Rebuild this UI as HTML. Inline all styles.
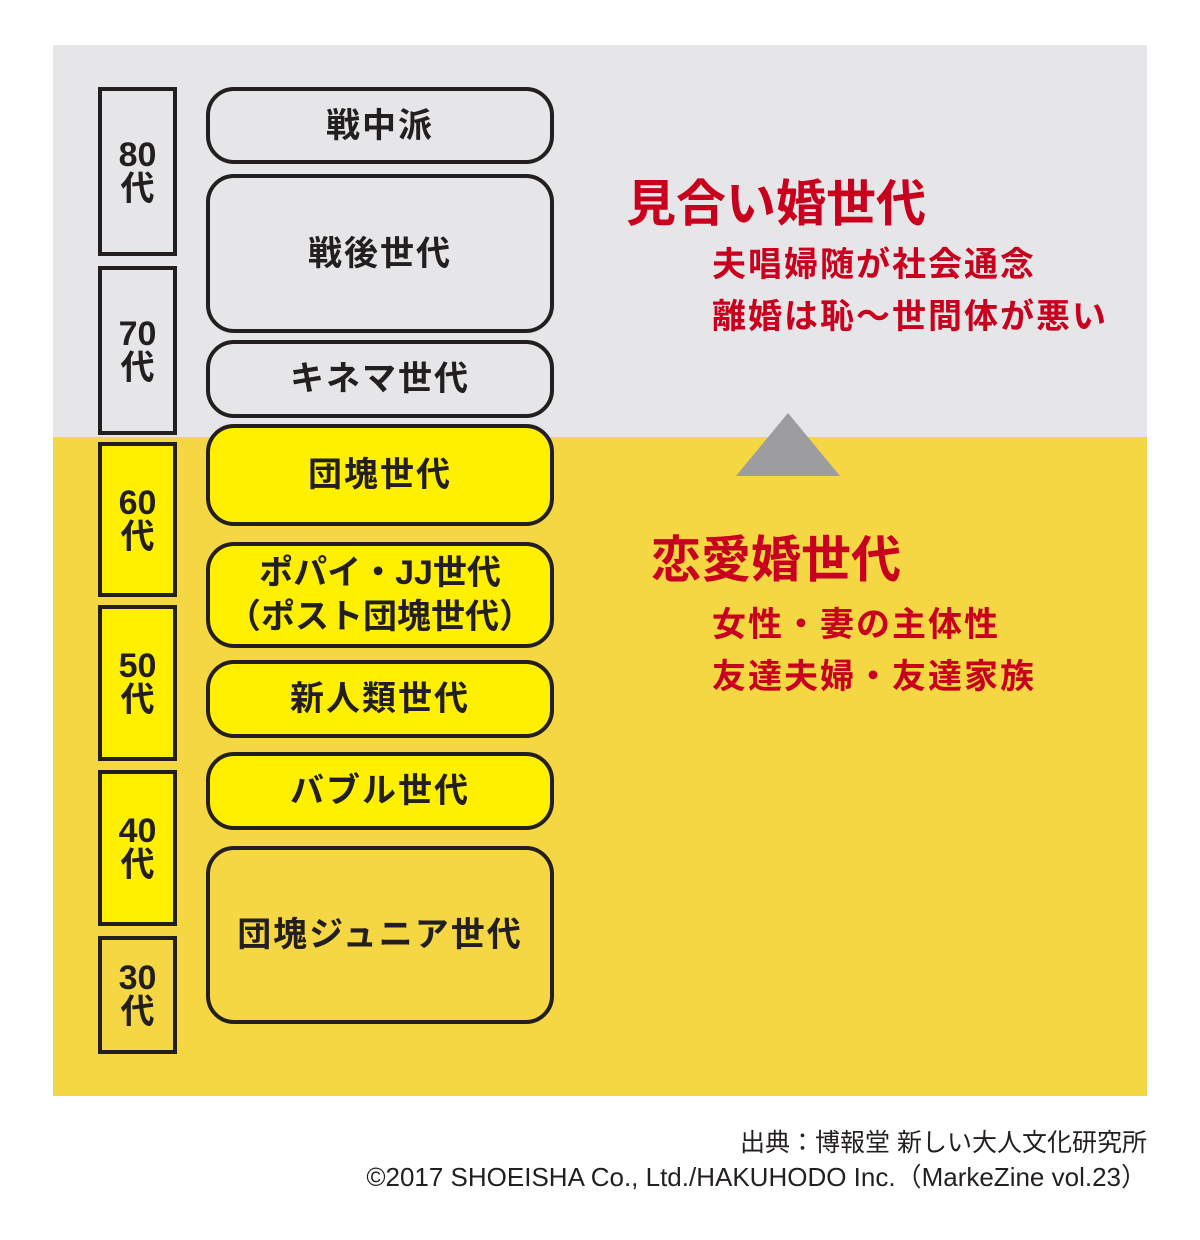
<!DOCTYPE html>
<html><head><meta charset="utf-8"><style>
body{margin:0;width:1200px;height:1240px;background:#fff;position:relative;overflow:hidden;font-family:"Liberation Sans","Noto Sans CJK JP",sans-serif;}
.a{position:absolute;box-sizing:border-box;}
.age{border:4px solid #231f20;display:flex;flex-direction:column;align-items:center;justify-content:center;font-weight:bold;font-size:34px;line-height:34px;color:#231f20;}
.g{border:4px solid #231f20;border-radius:28px;display:flex;flex-direction:column;align-items:center;justify-content:center;font-weight:bold;font-size:34px;letter-spacing:2px;line-height:44px;color:#231f20;text-align:center;white-space:nowrap;}
.y{background:#fff000;}
.r{color:#c8001e;font-weight:bold;white-space:nowrap;}
</style></head><body>
<div class="a" style="left:53px;top:45px;width:1094px;height:392px;background:#e6e6e8"></div>
<div class="a" style="left:53px;top:437px;width:1094px;height:659px;background:#f4d742"></div>

<div class="a age" style="left:98px;top:87px;width:79px;height:169px"><div>80</div><div>代</div></div>
<div class="a age" style="left:98px;top:266px;width:79px;height:169px"><div>70</div><div>代</div></div>
<div class="a age y" style="left:98px;top:442px;width:79px;height:155px"><div>60</div><div>代</div></div>
<div class="a age y" style="left:98px;top:605px;width:79px;height:156px"><div>50</div><div>代</div></div>
<div class="a age y" style="left:98px;top:770px;width:79px;height:156px"><div>40</div><div>代</div></div>
<div class="a age" style="left:98px;top:936px;width:79px;height:118px"><div>30</div><div>代</div></div>

<div class="a g" style="left:206px;top:87px;width:348px;height:77px">戦中派</div>
<div class="a g" style="left:206px;top:174px;width:348px;height:159px">戦後世代</div>
<div class="a g" style="left:206px;top:340px;width:348px;height:78px">キネマ世代</div>
<div class="a g y" style="left:206px;top:424px;width:348px;height:102px">団塊世代</div>
<div class="a g y" style="left:206px;top:542px;width:348px;height:106px;line-height:44px;letter-spacing:0"><div>ポパイ・JJ世代</div><div>（ポスト団塊世代）</div></div>
<div class="a g y" style="left:206px;top:660px;width:348px;height:78px">新人類世代</div>
<div class="a g y" style="left:206px;top:752px;width:348px;height:78px">バブル世代</div>
<div class="a g" style="left:206px;top:846px;width:348px;height:178px">団塊ジュニア世代</div>

<div class="a r" style="left:626px;top:174px;font-size:50px;line-height:60px">見合い婚世代</div>
<div class="a r" style="left:712px;top:245px;font-size:34px;line-height:40px;letter-spacing:2px">夫唱婦随が社会通念</div>
<div class="a r" style="left:712px;top:297px;font-size:34px;line-height:40px;letter-spacing:2px">離婚は恥～世間体が悪い</div>

<svg class="a" style="left:0;top:0" width="1200" height="1240"><polygon points="788,413 840,476 736,476" fill="#9d9d9f"/></svg>

<div class="a r" style="left:651px;top:530px;font-size:50px;line-height:60px">恋愛婚世代</div>
<div class="a r" style="left:712px;top:605px;font-size:34px;line-height:40px;letter-spacing:2px">女性・妻の主体性</div>
<div class="a r" style="left:712px;top:657px;font-size:34px;line-height:40px;letter-spacing:2px">友達夫婦・友達家族</div>

<div class="a" style="right:53px;top:1127px;font-size:25px;line-height:32px;color:#231f20;white-space:nowrap;text-align:right">出典：博報堂 新しい大人文化研究所</div>
<div class="a" style="right:53px;top:1161px;font-size:26px;line-height:32px;color:#231f20;white-space:nowrap;text-align:right">©2017 SHOEISHA Co., Ltd./HAKUHODO Inc.（MarkeZine vol.23）</div>
</body></html>
